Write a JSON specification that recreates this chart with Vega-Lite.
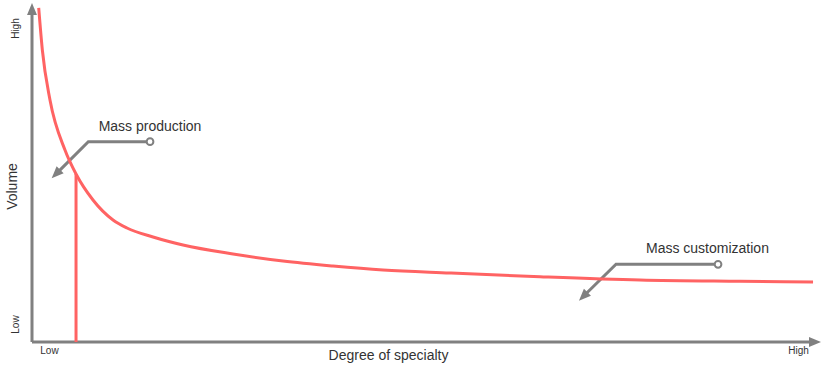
{
  "$schema": "https://vega.github.io/schema/vega-lite/v6.json",
  "width": 789,
  "height": 339,
  "autosize": {"type": "none"},
  "padding": {"left": 32, "top": 3, "right": 4, "bottom": 27},
  "background": "white",
  "config": {"view": {"stroke": null}, "font": "Arial"},
  "datasets": {
    "curve": [
      {"x": 0.85, "y": 98.53}, {"x": 1.31, "y": 86.14}, {"x": 2.28, "y": 71.39},
      {"x": 4.18, "y": 56.64}, {"x": 5.58, "y": 49.56}, {"x": 7.73, "y": 41.89},
      {"x": 10.27, "y": 35.99}, {"x": 12.04, "y": 33.63}, {"x": 15.34, "y": 30.97},
      {"x": 19.14, "y": 28.61}, {"x": 25.48, "y": 25.96}, {"x": 31.81, "y": 23.89},
      {"x": 38.15, "y": 22.42}, {"x": 44.49, "y": 21.24}, {"x": 52.98, "y": 20.35},
      {"x": 64.39, "y": 19.26}, {"x": 77.06, "y": 18.29}, {"x": 89.73, "y": 17.91},
      {"x": 98.99, "y": 17.7}
    ],
    "drop": [{"x": 5.58, "y": 49.56}, {"x": 5.58, "y": 0}],
    "axes": [
      {"axis": "x", "x": 0, "y": 0}, {"axis": "x", "x": 98.61, "y": 0},
      {"axis": "y", "x": 0, "y": 0}, {"axis": "y", "x": 0, "y": 96.46}
    ],
    "heads": [
      {"kind": "yaxis", "x": 0, "y": 98.23},
      {"kind": "xaxis", "x": 99.24, "y": 0},
      {"kind": "callout", "x": 3.03, "y": 49.53},
      {"kind": "callout", "x": 69.86, "y": 13.42}
    ],
    "callouts": [
      {"g": "prod", "o": 1, "x": 14.96, "y": 59.09},
      {"g": "prod", "o": 2, "x": 7.14, "y": 59.09},
      {"g": "prod", "o": 3, "x": 3.03, "y": 49.53},
      {"g": "cust", "o": 1, "x": 86.95, "y": 22.92},
      {"g": "cust", "o": 2, "x": 74.02, "y": 22.92},
      {"g": "cust", "o": 3, "x": 69.86, "y": 13.42}
    ],
    "dots": [{"x": 14.96, "y": 59.09}, {"x": 86.95, "y": 22.92}],
    "labels": [
      {"x": 14.96, "y": 63.42, "text": "Mass production"},
      {"x": 85.61, "y": 27.43, "text": "Mass customization"}
    ]
  },
  "encoding": {
    "x": {
      "field": "x", "type": "quantitative",
      "scale": {"domain": [0, 100], "nice": false, "zero": false},
      "axis": {
        "title": "Degree of specialty", "domain": false, "ticks": false, "tickSize": 0, "grid": false,
        "values": [2.15, 97.1],
        "labelExpr": "datum.value < 50 ? 'Low' : 'High'",
        "labelFontSize": 10, "labelColor": "#333333", "labelPadding": 3.5, "labelFlush": false,
        "titleFontSize": 14, "titleFontWeight": "normal", "titleColor": "#333333",
        "titleX": 356, "titleY": 13, "titleBaseline": "middle", "titleAlign": "center"
      }
    },
    "y": {
      "field": "y", "type": "quantitative",
      "scale": {"domain": [0, 100], "nice": false, "zero": false},
      "axis": {
        "title": "Volume", "domain": false, "ticks": false, "tickSize": 0, "grid": false,
        "values": [5.3, 92.6],
        "labelExpr": "datum.value < 50 ? 'Low' : 'High'",
        "labelFontSize": 10, "labelColor": "#333333", "labelPadding": 16.5,
        "labelAngle": -90, "labelAlign": "center", "labelBaseline": "middle", "labelFlush": false,
        "titleFontSize": 14, "titleFontWeight": "normal", "titleColor": "#333333",
        "titleX": -20, "titleY": 183, "titleAngle": -90, "titleBaseline": "middle", "titleAlign": "center"
      }
    }
  },
  "layer": [
    {
      "data": {"name": "axes"},
      "mark": {"type": "line", "color": "#808080", "strokeWidth": 3, "clip": false},
      "encoding": {"detail": {"field": "axis"}}
    },
    {
      "data": {"name": "heads"},
      "transform": [{"filter": "datum.kind == 'yaxis'"}],
      "mark": {"type": "point", "shape": "M0,-1L0.83,1L-0.83,1Z", "filled": true, "color": "#808080", "size": 144, "opacity": 1, "strokeWidth": 0, "angle": 0, "clip": false}
    },
    {
      "data": {"name": "heads"},
      "transform": [{"filter": "datum.kind == 'xaxis'"}],
      "mark": {"type": "point", "shape": "M0,-1L0.83,1L-0.83,1Z", "filled": true, "color": "#808080", "size": 144, "opacity": 1, "strokeWidth": 0, "angle": 90, "clip": false}
    },
    {
      "data": {"name": "callouts"},
      "mark": {"type": "line", "color": "#808080", "strokeWidth": 3, "clip": false},
      "encoding": {"detail": {"field": "g"}, "order": {"field": "o"}}
    },
    {
      "data": {"name": "heads"},
      "transform": [{"filter": "datum.kind == 'callout'"}],
      "mark": {"type": "point", "shape": "M0,-1L0.83,1L-0.83,1Z", "filled": true, "color": "#808080", "size": 144, "opacity": 1, "strokeWidth": 0, "angle": 225, "clip": false}
    },
    {
      "data": {"name": "curve"},
      "mark": {"type": "line", "color": "#ff6363", "strokeWidth": 3, "interpolate": "monotone", "clip": false}
    },
    {
      "data": {"name": "drop"},
      "mark": {"type": "line", "color": "#ff6363", "strokeWidth": 3, "clip": false}
    },
    {
      "data": {"name": "dots"},
      "mark": {"type": "point", "shape": "circle", "filled": false, "fill": "white", "fillOpacity": 1, "stroke": "#808080", "strokeWidth": 2, "size": 45, "opacity": 1, "clip": false}
    },
    {
      "data": {"name": "labels"},
      "mark": {"type": "text", "fontSize": 14, "color": "#333333", "align": "center", "baseline": "middle", "clip": false},
      "encoding": {"text": {"field": "text"}}
    }
  ]
}
